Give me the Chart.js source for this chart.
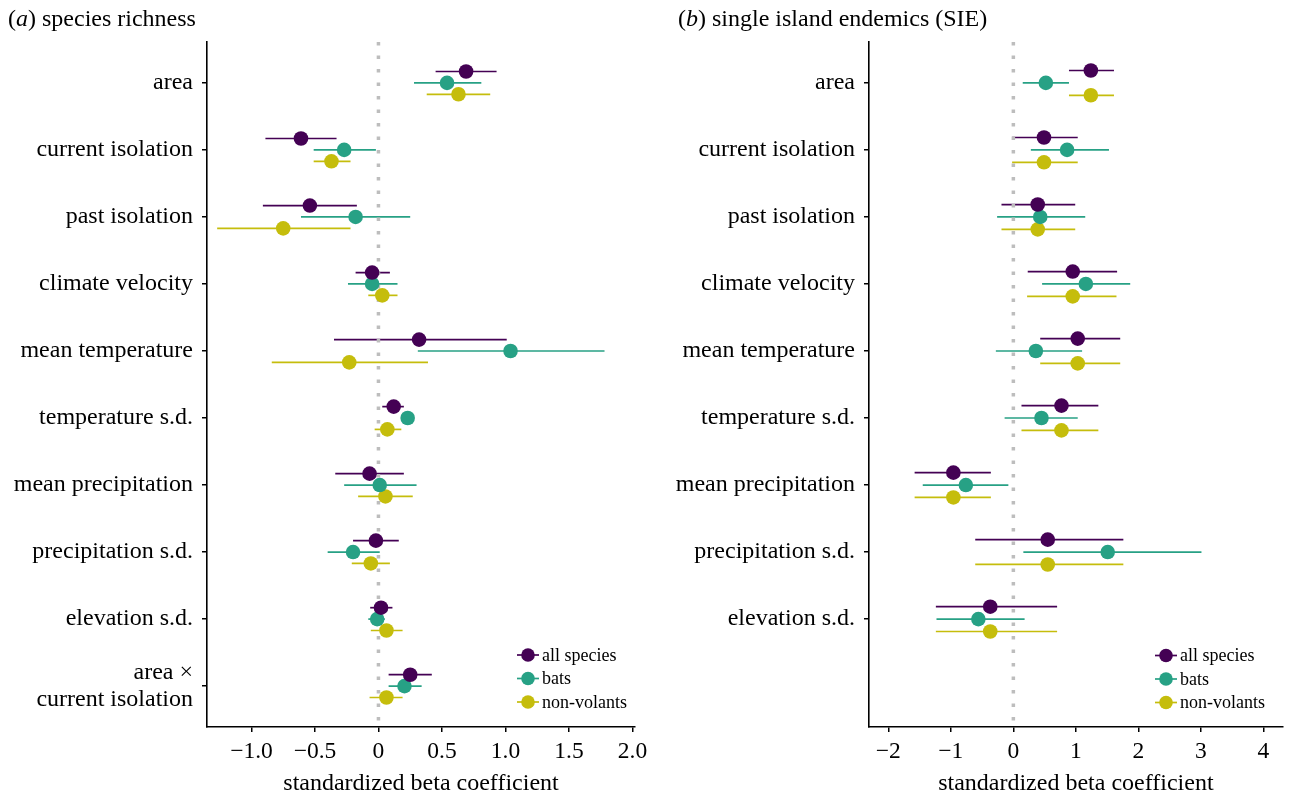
<!DOCTYPE html>
<html>
<head>
<meta charset="utf-8">
<script src="https://cdn.jsdelivr.net/npm/chart.js@4.4.0/dist/chart.umd.min.js"></script>
<style>
html, body { margin: 0; padding: 0; background: #fff; }
#wrap { position: relative; width: 1290px; height: 798px; overflow: hidden; }
canvas { position: absolute; top: 0; }
</style>
</head>
<body>
<div id="wrap">
  <canvas id="chartA" width="660" height="798" style="left:0"></canvas>
  <canvas id="chartB" width="645" height="798" style="left:645px"></canvas>
</div>
<script>
// ---- data ----
const seriesNames = ['all species', 'bats', 'non-volants'];
const seriesColors = ['#440154', '#27a185', '#c5bd0c'];

// (a) species richness
const richLabels = ['area', 'current isolation', 'past isolation', 'climate velocity', 'mean temperature',
  'temperature s.d.', 'mean precipitation', 'precipitation s.d.', 'elevation s.d.', ['area \u00d7', 'current isolation']];
const richAll   = [0.69, -0.61, -0.54, -0.05, 0.32, 0.12, -0.07, -0.02, 0.02, 0.25];
const richAllLo = [0.45, -0.89, -0.91, -0.18, -0.35, 0.03, -0.34, -0.20, -0.065, 0.08];
const richAllHi = [0.93, -0.33, -0.17, 0.09, 1.01, 0.20, 0.20, 0.16, 0.11, 0.42];
const richBats   = [0.54, -0.27, -0.18, -0.05, 1.04, 0.23, 0.01, -0.20, -0.01, 0.205];
const richBatsLo = [0.28, -0.51, -0.61, -0.24, 0.31, 0.19, -0.27, -0.40, -0.08, 0.08];
const richBatsHi = [0.81, -0.02, 0.25, 0.15, 1.78, 0.27, 0.30, 0.01, 0.05, 0.34];
const richNonv   = [0.63, -0.37, -0.75, 0.03, -0.23, 0.07, 0.055, -0.06, 0.063, 0.063];
const richNonvLo = [0.38, -0.51, -1.27, -0.08, -0.84, -0.03, -0.16, -0.21, -0.06, -0.07];
const richNonvHi = [0.88, -0.22, -0.22, 0.15, 0.39, 0.18, 0.27, 0.09, 0.19, 0.19];
const richTicks = [-1.0, -0.5, 0, 0.5, 1.0, 1.5, 2.0];
const richTickLabels = ['\u22121.0', '\u22120.5', '0', '0.5', '1.0', '1.5', '2.0'];

// (b) single island endemics
const sieLabels = ['area', 'current isolation', 'past isolation', 'climate velocity', 'mean temperature',
  'temperature s.d.', 'mean precipitation', 'precipitation s.d.', 'elevation s.d.'];
const sieAll   = [1.24, 0.49, 0.39, 0.95, 1.03, 0.77, -0.96, 0.55, -0.37];
const sieAllLo = [0.89, -0.02, -0.19, 0.23, 0.43, 0.13, -1.58, -0.61, -1.24];
const sieAllHi = [1.61, 1.03, 0.99, 1.66, 1.71, 1.36, -0.36, 1.76, 0.70];
const sieBats   = [0.52, 0.86, 0.43, 1.16, 0.36, 0.45, -0.76, 1.51, -0.56];
const sieBatsLo = [0.15, 0.28, -0.26, 0.46, -0.28, -0.14, -1.45, 0.16, -1.23];
const sieBatsHi = [0.89, 1.53, 1.15, 1.87, 1.10, 1.03, -0.08, 3.01, 0.18];
const sieNonv   = [1.24, 0.49, 0.39, 0.95, 1.03, 0.77, -0.96, 0.55, -0.37];
const sieNonvLo = [0.89, -0.02, -0.19, 0.22, 0.43, 0.13, -1.58, -0.61, -1.24];
const sieNonvHi = [1.61, 1.03, 0.99, 1.65, 1.71, 1.36, -0.36, 1.76, 0.70];
const sieTicks = [-2, -1, 0, 1, 2, 3, 4];
const sieTickLabels = ['\u22122', '\u22121', '0', '1', '2', '3', '4'];

const serif = '"Liberation Serif", "Times New Roman", serif';

// horizontal CI lines, drawn under the points
const errorBars = {
  id: 'errorBars',
  beforeDatasetsDraw(chart, args, opts) {
    const { ctx, scales: { x, y } } = chart;
    ctx.save();
    ctx.lineWidth = 1.7;
    opts.bars.forEach(s => {
      ctx.strokeStyle = s.color;
      s.lo.forEach((lo, i) => {
        const py = y.getPixelForValue(i + s.offset);
        ctx.beginPath();
        ctx.moveTo(x.getPixelForValue(lo), py);
        ctx.lineTo(x.getPixelForValue(s.hi[i]), py);
        ctx.stroke();
      });
    });
    ctx.restore();
  }
};

const panelTitle = {
  id: 'panelTitle',
  afterDraw(chart, args, o) {
    const ctx = chart.ctx;
    ctx.save();
    ctx.fillStyle = '#000';
    ctx.textBaseline = 'middle';
    let x = o.x;
    [['(', false], [o.letter, true], [') ' + o.text, false]].forEach(([t, it]) => {
      ctx.font = (it ? 'italic ' : '') + o.size + 'px ' + serif;
      ctx.fillText(t, x, o.y);
      x += ctx.measureText(t).width;
    });
    ctx.restore();
  }
};

const keyBox = {
  id: 'keyBox',
  afterDraw(chart, args, o) {
    const ctx = chart.ctx;
    ctx.save();
    ctx.textBaseline = 'middle';
    ctx.font = o.size + 'px ' + serif;
    seriesNames.forEach((n, i) => {
      const cy = o.y + i * o.gap;
      ctx.strokeStyle = seriesColors[i];
      ctx.fillStyle = seriesColors[i];
      ctx.lineWidth = 1.7;
      ctx.beginPath();
      ctx.moveTo(o.x - 11, cy);
      ctx.lineTo(o.x + 11, cy);
      ctx.stroke();
      ctx.beginPath();
      ctx.arc(o.x, cy, 6.8, 0, Math.PI * 2);
      ctx.fill();
      ctx.fillStyle = '#000';
      ctx.fillText(n, o.x + 14, cy + 1);
    });
    ctx.restore();
  }
};

function makeChart(id, cfg) {
  const datasets = [{
    type: 'line',
    data: [{ x: 0, y: -0.61 }, { x: 0, y: 9.61 }],
    borderColor: '#bdbdbd',
    borderWidth: 3.5,
    borderDash: [3.5, 10],
    pointRadius: 0,
    order: 3
  }];
  cfg.series.forEach((s, k) => {
    datasets.push({
      type: 'scatter',
      label: seriesNames[k],
      data: s.est.map((v, i) => ({ x: v, y: i + s.offset })),
      backgroundColor: seriesColors[k],
      borderColor: seriesColors[k],
      pointRadius: 7.3,
      pointBorderWidth: 0,
      order: 1
    });
  });
  new Chart(document.getElementById(id), {
    type: 'scatter',
    data: { datasets },
    options: {
      responsive: false,
      animation: false,
      devicePixelRatio: 1,
      layout: { padding: { top: 42, left: 0, right: cfg.padRight, bottom: 0 } },
      plugins: {
        legend: { display: false },
        tooltip: { enabled: false },
        errorBars: { bars: cfg.series.map((s, k) => ({ lo: s.lo, hi: s.hi, offset: s.offset, color: seriesColors[k] })) },
        panelTitle: cfg.title,
        keyBox: cfg.key
      },
      scales: {
        x: {
          type: 'linear',
          min: cfg.xMin,
          max: cfg.xMax,
          afterBuildTicks: s => { s.ticks = cfg.xTicks.map(v => ({ value: v })); },
          afterFit: s => { s.height = 71; },
          ticks: {
            callback: v => cfg.xTickLabels[cfg.xTicks.indexOf(v)],
            font: { family: serif, size: 23.5 }, color: '#000', padding: 6, maxRotation: 0, autoSkip: false
          },
          grid: { drawOnChartArea: false, drawTicks: true, tickLength: 5, color: '#000', lineWidth: 1.5 },
          border: { display: true, color: '#000', width: 1.6 },
          title: {
            display: true, text: 'standardized beta coefficient', color: '#000',
            font: { family: serif, size: 24, lineHeight: 1.2 }, padding: { top: 0, bottom: 0 }
          }
        },
        y: {
          type: 'linear',
          min: -0.61,
          max: 9.61,
          reverse: true,
          afterBuildTicks: s => { s.ticks = cfg.labels.map((l, i) => ({ value: i })); },
          afterFit: s => { s.width = cfg.yWidth; },
          ticks: {
            callback: v => cfg.labels[v],
            font: { family: serif, size: 24, lineHeight: 1.13 }, color: '#000', padding: 9, autoSkip: false
          },
          grid: { drawOnChartArea: false, drawTicks: true, tickLength: 5, color: '#000', lineWidth: 1.5 },
          border: { display: true, color: '#000', width: 1.6 }
        }
      }
    },
    plugins: [errorBars, panelTitle, keyBox]
  });
}

makeChart('chartA', {
  labels: richLabels,
  series: [
    { est: richAll, lo: richAllLo, hi: richAllHi, offset: -0.17 },
    { est: richBats, lo: richBatsLo, hi: richBatsHi, offset: 0 },
    { est: richNonv, lo: richNonvLo, hi: richNonvHi, offset: 0.17 }
  ],
  xMin: -1.35, xMax: 2.02,
  xTicks: richTicks, xTickLabels: richTickLabels,
  yWidth: 207, padRight: 25,
  title: { x: 8, y: 20, letter: 'a', text: 'species richness', size: 24 },
  key: { x: 528, y: 655, gap: 23.5, size: 18 }
});

makeChart('chartB', {
  labels: sieLabels,
  series: [
    { est: sieAll, lo: sieAllLo, hi: sieAllHi, offset: -0.185 },
    { est: sieBats, lo: sieBatsLo, hi: sieBatsHi, offset: 0 },
    { est: sieNonv, lo: sieNonvLo, hi: sieNonvHi, offset: 0.185 }
  ],
  xMin: -2.31, xMax: 4.31,
  xTicks: sieTicks, xTickLabels: sieTickLabels,
  yWidth: 224, padRight: 2,
  title: { x: 33, y: 20, letter: 'b', text: 'single island endemics (SIE)', size: 24 },
  key: { x: 521, y: 655.5, gap: 23.5, size: 18 }
});
</script>
</body>
</html>
